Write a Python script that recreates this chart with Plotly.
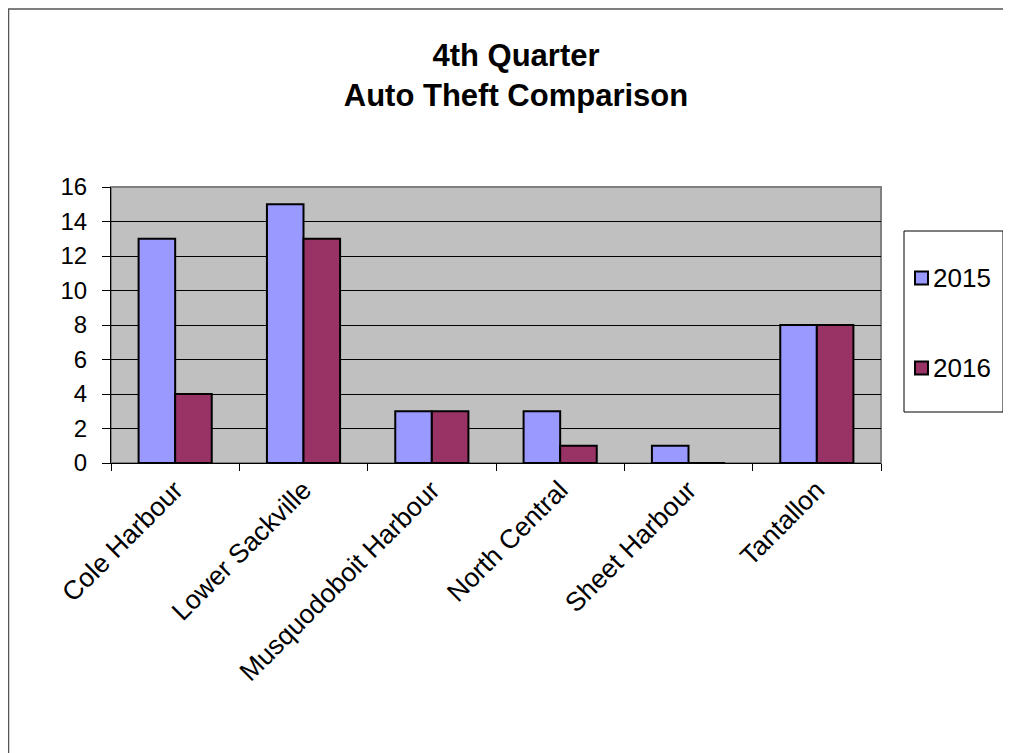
import plotly.graph_objects as go

categories = ["Cole Harbour", "Lower Sackville", "Musquodoboit Harbour",
              "North Central", "Sheet Harbour", "Tantallon"]
series_names = ["2015", "2016"]
values_2015 = [13, 15, 3, 3, 1, 8]
values_2016 = [4, 13, 3, 1, 0, 8]
y_ticks = [0, 2, 4, 6, 8, 10, 12, 14, 16]

colors = ["#9999FF", "#993366"]

OFF = 8  # browser body margin
W, H = 1011 - OFF, 753 - OFF
# plot area in page pixel coordinates
L, R, T, B = 111, 881, 187, 463
pw, ph = R - L, B - T

def px(x):
    return (x - L) / pw

def py(y):
    return (B - y) / ph

fig = go.Figure()
for name, vals, col in zip(series_names, [values_2015, values_2016], colors):
    fig.add_trace(go.Bar(name=name, x=categories, y=vals,
                         marker=dict(color=col, line=dict(color="black", width=2)),
                         showlegend=False))

# outer chart border
fig.add_shape(type="rect", xref="paper", yref="paper",
              x0=px(OFF + 0.5), x1=px(1030), y0=py(780), y1=py(OFF + 1),
              line=dict(color="#555555", width=1.5), layer="below")
# plot frame (gray)
fig.add_shape(type="rect", xref="paper", yref="paper",
              x0=0, x1=1, y0=0, y1=1,
              line=dict(color="#808080", width=2), layer="below")

# legend (manual, to match the original box layout)
fig.add_shape(type="rect", xref="paper", yref="paper",
              x0=px(904), x1=px(1003), y0=py(412), y1=py(231),
              line=dict(color="black", width=1), fillcolor="white")
for name, col, yc in zip(series_names, colors, [278, 368]):
    fig.add_shape(type="rect", xref="paper", yref="paper",
                  x0=px(915), x1=px(928), y0=py(yc + 6.5), y1=py(yc - 6.5),
                  line=dict(color="black", width=2), fillcolor=col)
    fig.add_annotation(xref="paper", yref="paper", x=px(931), y=py(yc),
                       text=name, showarrow=False, xanchor="left", yanchor="middle",
                       font=dict(size=26, color="black"))

fig.update_layout(
    width=W, height=H,
    margin=dict(l=L - OFF, r=W - (R - OFF), t=T - OFF, b=H - (B - OFF), autoexpand=False),
    paper_bgcolor="white",
    plot_bgcolor="#C0C0C0",
    barmode="group",
    bargap=0.43,
    bargroupgap=0,
    font=dict(family="Liberation Sans, Arial, sans-serif", color="black"),
    title=dict(text="<b>4th Quarter<br>Auto Theft Comparison</b>",
               x=(516 - OFF) / W, xanchor="center", y=1 - (66 - OFF) / H, yanchor="middle",
               font=dict(size=31, family="Liberation Sans, Arial, sans-serif")),
    showlegend=False,
)
fig.update_xaxes(
    showline=True, linecolor="black", linewidth=1,
    ticks="outside", tickson="boundaries", ticklen=7, tickcolor="black",
    tickangle=-45, tickfont=dict(size=26.5), showgrid=False,
)
fig.update_yaxes(
    range=[0, 16], tickvals=y_ticks, showline=True, linecolor="black", linewidth=1,
    ticks="outside", ticklen=8, tickcolor="black", tickfont=dict(size=24),
    ticklabelstandoff=10,
    showgrid=True, gridcolor="black", gridwidth=1, zeroline=False,
)

fig.write_html("out.html")
